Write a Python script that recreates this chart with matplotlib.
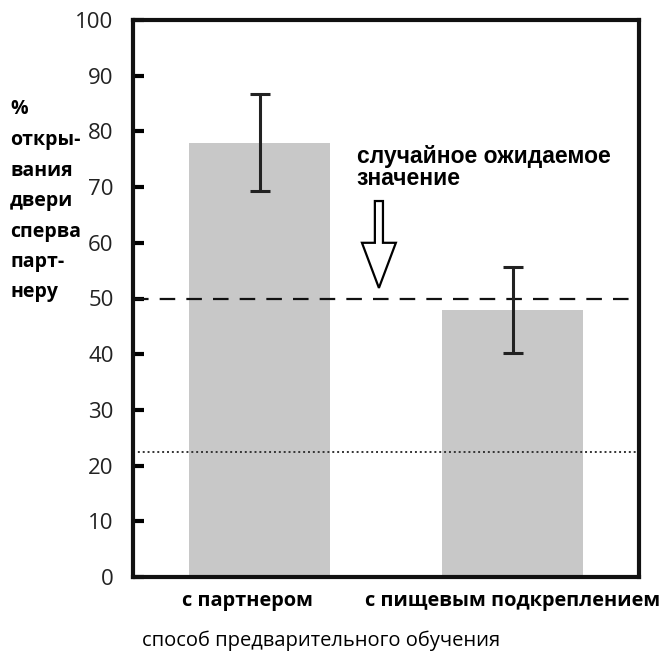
import numpy as np
import matplotlib
matplotlib.use("Agg")
import matplotlib.pyplot as plt
from matplotlib.transforms import ScaledTranslation

# values
groups = ["с партнером", "с пищевым подкреплением"]
means = [78.0, 48.0]
errs = [8.7, 7.7]
chance = 50.0
baseline = 22.4
yticks = [0, 10, 20, 30, 40, 50, 60, 70, 80, 90, 100]

fig = plt.figure(figsize=(6.69, 6.53), dpi=100)
ax = fig.add_axes([133/669, 1 - 577/653, 506/669, 557/653])

x = np.arange(len(groups))
ax.bar(x, means, width=0.555, color="#c8c8c8", zorder=1)
ax.errorbar(x, means, yerr=errs, fmt="none", ecolor="#222222",
            elinewidth=2.2, capsize=7, capthick=2.2, zorder=3)

ax.axhline(chance, color="#111111", lw=1.6, dashes=(7, 5), zorder=2)
ax.axhline(baseline, color="#333333", lw=1.4, dashes=(1, 1.5), zorder=2)

# hollow arrow pointing at the chance line
ax.arrow(0.472, 67.5, 0, -15.6, width=0.032, head_width=0.134,
         head_length=8.1, length_includes_head=True,
         facecolor="white", edgecolor="black", lw=1.6, zorder=4)
ax.text(0.385, 77.5, "случайное ожидаемое\nзначение", fontsize=16.5,
        fontweight="bold", family="Liberation Sans", va="top", ha="left",
        linespacing=0.9)

ax.set_xlim(-0.5, 1.5)
ax.set_ylim(0, 100)
ax.set_yticks(yticks)
ax.set_xticks(x)
ax.set_xticklabels(groups, fontsize=14.4, fontweight="bold", family="Open Sans")
ax.tick_params(axis="x", length=0, pad=10)
ax.tick_params(axis="y", direction="in", length=8, width=3, pad=14,
               labelsize=16, labelcolor="#222222")
for lab in ax.get_yticklabels():
    lab.set_family("Open Sans")
first = ax.get_xticklabels()[0]
first.set_transform(first.get_transform() + ScaledTranslation(-0.12, 0, fig.dpi_scale_trans))
for s in ax.spines.values():
    s.set_linewidth(3)
    s.set_color("#111111")

fig.text(10/669, 1 - 201/653, "%\nоткры-\nвания\nдвери\nсперва\nпарт-\nнеру",
         fontsize=14, fontweight="bold", family="Open Sans", va="center",
         ha="left", linespacing=1.7)
fig.text(142/669, 1 - 641/653, "способ предварительного обучения",
         fontsize=14.5, family="Open Sans", va="center", ha="left")

fig.savefig("out.png", dpi=100)
